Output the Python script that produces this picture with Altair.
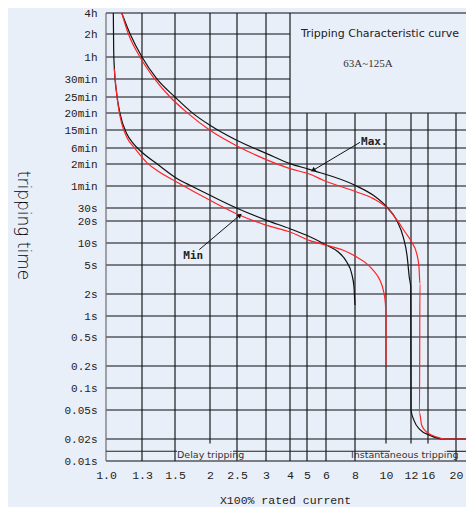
import altair as alt
import pandas as pd

# ---------------- axis ticks (custom, non-uniform chart paper) ----------------
x_ticks = [1.0, 1.3, 1.5, 2, 2.5, 3, 4, 5, 6, 8, 10, 12, 16, 20]
x_labels = ["1.0", "1.3", "1.5", "2", "2.5", "3", "4", "5", "6", "8", "10", "12", "16", "20"]
x_max = 24
y_ticks = [0.01, 0.02, 0.05, 0.1, 0.2, 0.5, 1, 2, 5, 10, 20, 30, 60, 120, 360,
           900, 1200, 1500, 1800, 3600, 7200, 14400]
y_labels = ["0.01s", "0.02s", "0.05s", "0.1s", "0.2s", "0.5s", "1s", "2s", "5s", "10s",
            "20s", "30s", "1min", "2min", "6min", "15min", "20min", "25min", "30min",
            "1h", "2h", "4h"]

# grid extents (the title box hides the upper-right part of the grid)
h_short = [1500, 1800, 3600, 7200]          # lines that stop at x = 4
v_short_top = [5, 6, 8, 10, 12, 16, 20]     # lines that start at 20min
v_short_bottom = [2, 10, 12, 16]            # lines that stop above the captions

# ---------------- curves (current multiple, seconds) ----------------
max_black_x = [1.131, 1.2, 1.3, 1.389, 1.5, 1.761, 2.0, 2.494, 3.03, 4.0, 5.16, 8.0, 9.18,
               10.06, 10.86, 11.38, 11.7, 11.86, 11.98, 12.0, 12.7, 14.1, 16.29, 18.19, 24]
max_black_y = [14400, 7300, 3600, 1830, 1500, 1189, 983, 591, 276, 126, 104.7, 62, 47.3,
               31.4, 20.5, 12.7, 6.8, 3.76, 2.72, 0.05, 0.0393, 0.0297, 0.0238, 0.02, 0.02]

max_red_x = [1.131, 1.186, 1.283, 1.375, 1.47, 1.69, 2.0, 2.5, 3.01, 4.0, 5.16, 5.86, 8.11,
             9.18, 10.06, 10.9, 11.52, 12.16, 13.34, 13.88, 14.1, 14.0, 14.52, 15.69, 17.24,
             18.43, 24]
max_red_y = [14400, 7300, 3600, 1833, 1500, 1189, 891, 420, 186, 107.5, 91.9, 75.5, 51.8,
             42.8, 30.5, 20.5, 15, 10.45, 7.6, 4.8, 3.08, 0.047, 0.0342, 0.0272, 0.0221,
             0.02, 0.02]

min_black_x = [1.061, 1.064, 1.069, 1.089, 1.117, 1.172, 1.228, 1.297, 1.389, 1.571, 1.667,
               2.0, 2.49, 3.03, 4.0, 4.98, 6.05, 6.85, 7.43, 7.77, 7.93, 7.98, 8.0]
min_black_y = [14400, 4649, 2782, 1557, 1189, 792, 492, 300, 126, 75.5, 66.5,
               47.3, 30, 20.5, 16.5, 13.5, 9.48, 7.95, 5.68, 4.11, 2.72, 1.71, 1.5]

min_red_x = [1.069, 1.083, 1.103, 1.131, 1.172, 1.242, 1.336, 1.389, 1.524, 2.0, 2.55, 3.03,
             4.0, 5.16, 6.05, 7.19, 8.11, 8.75, 9.18, 9.61, 9.83, 9.96, 10.0, 10.0]
min_red_y = [2651, 1667, 1312, 1013, 690, 351, 126, 102.8, 70.9, 40.5, 24.4, 18,
             15, 11.1, 9.48, 8.34, 6.82, 5.32, 4.45, 3.42, 2.38, 1.56, 0.976, 0.2]

# ---------------- annotations ----------------
bracket_x = [1.0, 2.426, 18.67]
bracket_x2 = [1.529, 10.32, 24]
bracket_y = 0.0144

notes_text = ["Tripping Characteristic curve", "63A~125A", "Max.", "Min",
              "Delay tripping", "Instantaneous tripping"]
notes_x = [4.65, 7.19, 8.39, 1.619, 1.529, 7.72]
notes_y = [7300, 3060, 540, 6.98, 0.0129, 0.0129]

arrow_x = [8.32, 1.847]
arrow_y = [530, 8.5]
arrow_x2 = [5.32, 2.55]
arrow_y2 = [102.8, 24.4]
arrow_angle = [238, 50]

BG = "#e9eff9"

# ---------------- scales / axes ----------------
xs = alt.Scale(type="linear", domain=x_ticks + [x_max],
               range=[0, 36, 69, 104, 131, 160, 184, 201, 220, 249, 280, 305, 322, 350, 368],
               nice=False, zero=False)
ys = alt.Scale(type="linear", domain=y_ticks,
               range=[448, 426, 397, 375, 353, 324, 303, 281, 252, 230, 208, 195, 173, 151,
                      135, 117, 100, 84, 66, 44, 21, 0],
               nice=False, zero=False)

def arr(vals):
    return "[" + ",".join(repr(v) if not isinstance(v, str) else "'" + v + "'" for v in vals) + "]"

xa = alt.Axis(values=x_ticks, labelExpr=f"{arr(x_labels)}[indexof({arr(x_ticks)}, datum.value)]",
              grid=False, ticks=False, domain=False, labelFlush=False, labelOverlap=False,
              labelFont="Liberation Mono", labelFontSize=11.5, labelColor="#222",
              labelPadding=8, title="X100%  rated current", titleFont="Liberation Mono",
              titleFontSize=11.5, titleFontWeight="normal", titleColor="#222",
              titleX=179, titleY=39.5, titleBaseline="middle")
ya = alt.Axis(values=y_ticks, labelExpr=f"{arr(y_labels)}[indexof({arr(y_ticks)}, datum.value)]",
              grid=False, ticks=False, domain=False, labelFlush=False, labelOverlap=False,
              labelFont="Liberation Mono", labelFontSize=11, labelColor="#222",
              labelPadding=9, title="tripping time", titleFont="DejaVu Sans",
              titleFontSize=17, titleFontWeight=200, titleColor="#000",
              titleAngle=90, titleX=-84, titleY=212, titleAlign="center",
              titleBaseline="middle")

def X(f="x"):
    return alt.X(f"{f}:Q", scale=xs, axis=xa)

def Y(f="y"):
    return alt.Y(f"{f}:Q", scale=ys, axis=ya)

# ---------------- grid ----------------
hgrid = pd.DataFrame({"y": y_ticks,
                      "x": [x_ticks[0]] * len(y_ticks),
                      "x2": [4 if v in h_short else x_max for v in y_ticks]})
vgrid = pd.DataFrame({"x": x_ticks,
                      "y": [0.0179 if v in v_short_bottom else y_ticks[0] for v in x_ticks],
                      "y2": [1200 if v in v_short_top else y_ticks[-1] for v in x_ticks]})

h_layer = alt.Chart(hgrid).mark_rule(color="#55585c", strokeWidth=1.5).encode(
    x=X(), x2="x2:Q", y=Y())
v_layer = alt.Chart(vgrid).mark_rule(strokeWidth=1.2).encode(
    x=X(), y=Y(), y2="y2:Q",
    color=alt.condition(alt.datum.x == 1, alt.value("#6a6d72"), alt.value("#1a1a1a")),
    strokeWidth=alt.condition(alt.datum.x == 1, alt.value(2), alt.value(1.2)))

brk = pd.DataFrame({"x": bracket_x, "x2": bracket_x2, "y": [bracket_y] * len(bracket_x)})
brk_layer = alt.Chart(brk).mark_rule(color="#222", strokeWidth=1.1).encode(
    x=X(), x2="x2:Q", y=Y())

# ---------------- curves ----------------
rows = []
for name, xv, yv in [("max_black", max_black_x, max_black_y),
                     ("max_red", max_red_x, max_red_y),
                     ("min_black", min_black_x, min_black_y),
                     ("min_red", min_red_x, min_red_y)]:
    for i, (a, b) in enumerate(zip(xv, yv)):
        rows.append({"curve": name, "x": a, "y": b, "i": i})
curves = pd.DataFrame(rows)
curve_layer = alt.Chart(curves).mark_line(strokeWidth=1.2, interpolate="monotone").encode(
    x=X(), y=Y(), order="i:Q", detail="curve:N",
    color=alt.Color("curve:N",
                    scale=alt.Scale(domain=["max_black", "max_red", "min_black", "min_red"],
                                    range=["#111111", "#ff2424", "#111111", "#ff2424"]),
                    legend=None))

# ---------------- annotations ----------------
notes = pd.DataFrame({"t": notes_text, "x": notes_x, "y": notes_y})
title_layer = alt.Chart(notes.iloc[[0]]).mark_text(
    align="left", baseline="middle", font="DejaVu Sans", fontSize=11, color="#222").encode(
    x=X(), y=Y(), text="t:N")
sub_layer = alt.Chart(notes.iloc[[1]]).mark_text(
    align="left", baseline="middle", font="Liberation Serif", fontSize=11, color="#333").encode(
    x=X(), y=Y(), text="t:N")
mm_layer = alt.Chart(notes.iloc[[2, 3]]).mark_text(
    align="left", baseline="middle", font="DejaVu Sans Mono", fontSize=11,
    fontWeight="bold", color="#222").encode(x=X(), y=Y(), text="t:N")
cap_layer = alt.Chart(notes.iloc[[4, 5]]).mark_text(
    align="left", baseline="middle", font="DejaVu Sans", fontSize=9.5, color="#333").encode(
    x=X(), y=Y(), text="t:N")

arrows = pd.DataFrame({"x": arrow_x, "y": arrow_y, "x2": arrow_x2, "y2": arrow_y2,
                       "a": arrow_angle})
arrow_layer = alt.Chart(arrows).mark_rule(color="#111", strokeWidth=1).encode(
    x=X(), y=Y(), x2="x2:Q", y2="y2:Q")
head_layer = alt.Chart(arrows).mark_point(shape="triangle-up", filled=True, size=28,
                                          color="#111", opacity=1).encode(
    x=X("x2"), y=Y("y2"), angle=alt.Angle("a:Q", scale=None))

page_css = ("html,body{background:" + BG + ";overflow:hidden;}"
            ".vega-embed{display:block;position:relative;}"
            ".vega-embed svg{display:block;}")

# plot area 360 wide so the page fits the window; the scale runs on to the window edge
chart = alt.layer(
    h_layer, v_layer, brk_layer, curve_layer, title_layer, sub_layer, mm_layer,
    cap_layer, arrow_layer, head_layer
).properties(
    width=360, height=448,
    autosize=alt.AutoSizeParams(type="none"),
    padding={"left": 98, "top": 5, "right": 0, "bottom": 46},
    background=BG,
    usermeta={"embedOptions": {"defaultStyle": page_css}},
).configure_view(stroke=None)

chart.save("out.html", embed_options={"renderer": "svg", "actions": False})
